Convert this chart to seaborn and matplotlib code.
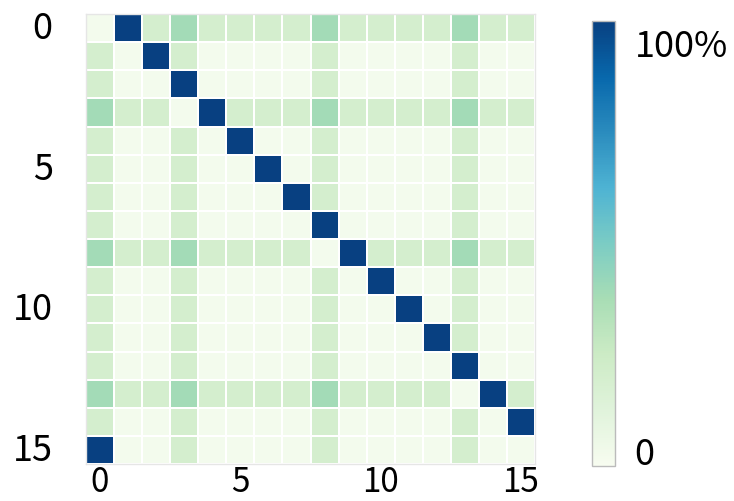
import matplotlib
matplotlib.use("Agg")
import matplotlib.pyplot as plt
import seaborn as sns
import numpy as np
import pandas as pd

sns.set_theme(style="white")
plt.rcParams['font.family'] = ['Noto Sans CJK JP', 'DejaVu Sans']

# 16x16 matrix values (fraction, 1.0 = 100%)
row_labels = list(range(16))
col_labels = list(range(16))
values = [
    [0.02, 1.00, 0.20, 0.39, 0.20, 0.20, 0.20, 0.20, 0.39, 0.20, 0.20, 0.20, 0.20, 0.39, 0.20, 0.20],
    [0.20, 0.02, 1.00, 0.20, 0.02, 0.02, 0.02, 0.02, 0.20, 0.02, 0.02, 0.02, 0.02, 0.20, 0.02, 0.02],
    [0.20, 0.02, 0.02, 1.00, 0.02, 0.02, 0.02, 0.02, 0.20, 0.02, 0.02, 0.02, 0.02, 0.20, 0.02, 0.02],
    [0.39, 0.20, 0.20, 0.02, 1.00, 0.20, 0.20, 0.20, 0.39, 0.20, 0.20, 0.20, 0.20, 0.39, 0.20, 0.20],
    [0.20, 0.02, 0.02, 0.20, 0.02, 1.00, 0.02, 0.02, 0.20, 0.02, 0.02, 0.02, 0.02, 0.20, 0.02, 0.02],
    [0.20, 0.02, 0.02, 0.20, 0.02, 0.02, 1.00, 0.02, 0.20, 0.02, 0.02, 0.02, 0.02, 0.20, 0.02, 0.02],
    [0.20, 0.02, 0.02, 0.20, 0.02, 0.02, 0.02, 1.00, 0.20, 0.02, 0.02, 0.02, 0.02, 0.20, 0.02, 0.02],
    [0.20, 0.02, 0.02, 0.20, 0.02, 0.02, 0.02, 0.02, 1.00, 0.02, 0.02, 0.02, 0.02, 0.20, 0.02, 0.02],
    [0.39, 0.20, 0.20, 0.39, 0.20, 0.20, 0.20, 0.20, 0.02, 1.00, 0.20, 0.20, 0.20, 0.39, 0.20, 0.20],
    [0.20, 0.02, 0.02, 0.20, 0.02, 0.02, 0.02, 0.02, 0.20, 0.02, 1.00, 0.02, 0.02, 0.20, 0.02, 0.02],
    [0.20, 0.02, 0.02, 0.20, 0.02, 0.02, 0.02, 0.02, 0.20, 0.02, 0.02, 1.00, 0.02, 0.20, 0.02, 0.02],
    [0.20, 0.02, 0.02, 0.20, 0.02, 0.02, 0.02, 0.02, 0.20, 0.02, 0.02, 0.02, 1.00, 0.20, 0.02, 0.02],
    [0.20, 0.02, 0.02, 0.20, 0.02, 0.02, 0.02, 0.02, 0.20, 0.02, 0.02, 0.02, 0.02, 1.00, 0.02, 0.02],
    [0.39, 0.20, 0.20, 0.39, 0.20, 0.20, 0.20, 0.20, 0.39, 0.20, 0.20, 0.20, 0.20, 0.02, 1.00, 0.20],
    [0.20, 0.02, 0.02, 0.20, 0.02, 0.02, 0.02, 0.02, 0.20, 0.02, 0.02, 0.02, 0.02, 0.20, 0.02, 1.00],
    [1.00, 0.02, 0.02, 0.20, 0.02, 0.02, 0.02, 0.02, 0.20, 0.02, 0.02, 0.02, 0.02, 0.20, 0.02, 0.02],
]
tick_values = [0, 5, 10, 15]
cbar_tick_values = [0.036, 0.953]
cbar_tick_labels = ["0", "100%"]

df = pd.DataFrame(values, index=row_labels, columns=col_labels)

fig = plt.figure(figsize=(7.34, 5.02), dpi=100)
ax = fig.add_axes([0.1172, 0.0737, 0.6117, 0.8964])
cax = fig.add_axes([0.8065, 0.0697, 0.0313, 0.8865])

sns.heatmap(df, ax=ax, cbar_ax=cax, cmap="GnBu", vmin=0, vmax=1,
            linewidths=1.2, linecolor="white", square=False)

ax.set_xticks([t + 0.5 for t in tick_values])
ax.set_xticklabels([str(t) for t in tick_values], rotation=0)
ax.set_yticks([t + 0.5 for t in tick_values])
ax.set_yticklabels([str(t) for t in tick_values], rotation=0)
ax.tick_params(axis='both', length=0, colors='black')
ax.tick_params(axis='y', pad=24, labelsize=26)
ax.tick_params(axis='x', pad=0, labelsize=24)
for s in ax.spines.values():
    s.set_visible(True)
    s.set_color("#e6e6e6")
    s.set_linewidth(1.0)

cbar = ax.collections[0].colorbar
cbar.set_ticks(cbar_tick_values)
cbar.set_ticklabels(cbar_tick_labels)
cax.tick_params(length=0, labelsize=26, pad=14, colors='black')
cbar.outline.set_edgecolor("#bbbbbb")
cbar.outline.set_linewidth(1.0)

fig.savefig("out.png", dpi=100)
